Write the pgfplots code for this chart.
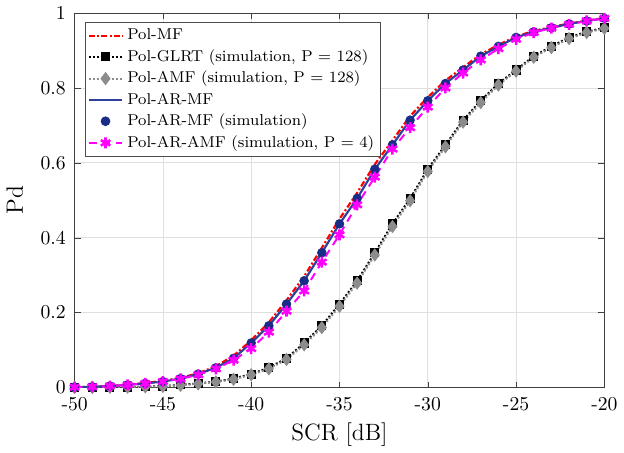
\documentclass[border=0pt]{standalone}
\usepackage{pgfplots}
\pgfplotsset{compat=1.18}
\definecolor{navyl}{RGB}{45,65,155}
\definecolor{navyd}{RGB}{25,45,135}
\definecolor{mag}{RGB}{255,0,255}
\definecolor{grayamf}{RGB}{140,140,140}
\begin{document}
\begin{tikzpicture}
\begin{axis}[
  scale only axis,
  width=269.5pt, height=190.5pt,
  xmin=-50, xmax=-20, ymin=0, ymax=1,
  xtick={-50,-45,-40,-35,-30,-25,-20},
  xticklabels={-50,-45,-40,-35,-30,-25,-20},
  ytick={0,0.2,0.4,0.6,0.8,1},
  yticklabels={0,0.2,0.4,0.6,0.8,1},
  tick label style={font=\normalsize},
  xticklabel style={yshift=-1.5pt},
  yticklabel style={xshift=-1pt},
  xlabel={SCR [dB]}, ylabel={Pd},
  label style={font=\large},
  xlabel style={yshift=1pt},
  ylabel style={yshift=2pt},
  grid=major,
  major grid style={gray!25, line width=0.4pt},
  axis line style={black!75, line width=0.5pt},
  tick style={black!75},
  tick align=inside,
  major tick length=3pt,
  legend style={at={(0.02,0.975)}, anchor=north west, font=\footnotesize,
    draw=black!70, line width=0.5pt, inner sep=1pt, row sep=-0.5pt, fill=white},
  legend cell align=left,
]
% Pol-MF
\addplot[red, line width=1.1pt, dash pattern=on 3pt off 1.2pt on 1pt off 1.2pt] coordinates {
(-50,0.001)(-49,0.002)(-48,0.004)(-47,0.008)(-46,0.012)(-45,0.018)(-44,0.026)(-43,0.038)(-42,0.057)(-41,0.085)(-40,0.126)
(-39,0.174)(-38,0.233)(-37,0.297)(-36,0.373)(-35,0.450)(-34,0.520)(-33,0.596)(-32,0.660)(-31,0.725)(-30,0.775)
(-29,0.820)(-28,0.855)(-27,0.890)(-26,0.915)(-25,0.938)(-24,0.952)(-23,0.963)(-22,0.972)(-21,0.980)(-20,0.987)};
\addlegendentry{Pol-MF}
% Pol-GLRT
\addplot[black, line width=1pt, densely dotted, mark=square*, mark size=1.8pt, mark options={solid}] coordinates {
(-50,0.0002)(-49,0.0004)(-48,0.0007)(-47,0.001)(-46,0.002)(-45,0.004)(-44,0.007)(-43,0.011)(-42,0.016)(-41,0.024)(-40,0.036)
(-39,0.053)(-38,0.078)(-37,0.119)(-36,0.165)(-35,0.223)(-34,0.285)(-33,0.360)(-32,0.437)(-31,0.505)(-30,0.583)
(-29,0.648)(-28,0.714)(-27,0.766)(-26,0.812)(-25,0.848)(-24,0.885)(-23,0.911)(-22,0.935)(-21,0.950)(-20,0.961)};
\addlegendentry{Pol-GLRT (simulation, P = 128)}
% Pol-AMF
\addplot[grayamf, line width=1pt, densely dotted, mark=diamond*, mark size=2.6pt, mark options={solid}] coordinates {
(-50,0.0002)(-49,0.0003)(-48,0.0006)(-47,0.001)(-46,0.002)(-45,0.003)(-44,0.006)(-43,0.010)(-42,0.015)(-41,0.022)(-40,0.034)
(-39,0.050)(-38,0.075)(-37,0.114)(-36,0.160)(-35,0.217)(-34,0.279)(-33,0.354)(-32,0.430)(-31,0.499)(-30,0.577)
(-29,0.643)(-28,0.709)(-27,0.761)(-26,0.808)(-25,0.845)(-24,0.882)(-23,0.908)(-22,0.932)(-21,0.948)(-20,0.959)};
\addlegendentry{Pol-AMF (simulation, P = 128)}
% Pol-AR-MF
\addplot[navyl, line width=1.1pt] coordinates {
(-50,0.001)(-49,0.002)(-48,0.004)(-47,0.007)(-46,0.011)(-45,0.016)(-44,0.024)(-43,0.036)(-42,0.053)(-41,0.078)(-40,0.119)
(-39,0.165)(-38,0.223)(-37,0.285)(-36,0.360)(-35,0.437)(-34,0.505)(-33,0.583)(-32,0.648)(-31,0.714)(-30,0.766)
(-29,0.812)(-28,0.848)(-27,0.885)(-26,0.911)(-25,0.935)(-24,0.950)(-23,0.961)(-22,0.971)(-21,0.979)(-20,0.986)};
\addlegendentry{Pol-AR-MF}
% Pol-AR-MF simulation
\addplot[only marks, navyd, mark=*, mark size=2.2pt] coordinates {
(-50,0.001)(-49,0.002)(-48,0.004)(-47,0.007)(-46,0.011)(-45,0.016)(-44,0.024)(-43,0.036)(-42,0.053)(-41,0.078)(-40,0.119)
(-39,0.165)(-38,0.223)(-37,0.285)(-36,0.360)(-35,0.437)(-34,0.505)(-33,0.583)(-32,0.648)(-31,0.714)(-30,0.766)
(-29,0.812)(-28,0.848)(-27,0.885)(-26,0.911)(-25,0.935)(-24,0.950)(-23,0.961)(-22,0.971)(-21,0.979)(-20,0.986)};
\addlegendentry{Pol-AR-MF (simulation)}
% Pol-AR-AMF
\addplot[mag, line width=1pt, dash pattern=on 4pt off 3pt, mark=asterisk, mark size=2.8pt, mark options={solid, line width=1.3pt}] coordinates {
(-50,0.001)(-49,0.002)(-48,0.004)(-47,0.007)(-46,0.011)(-45,0.016)(-44,0.023)(-43,0.034)(-42,0.050)(-41,0.073)(-40,0.104)
(-39,0.148)(-38,0.204)(-37,0.258)(-36,0.335)(-35,0.408)(-34,0.488)(-33,0.562)(-32,0.637)(-31,0.694)(-30,0.749)
(-29,0.800)(-28,0.840)(-27,0.875)(-26,0.905)(-25,0.930)(-24,0.948)(-23,0.960)(-22,0.970)(-21,0.979)(-20,0.986)};
\addlegendentry{Pol-AR-AMF (simulation, P = 4)}
\end{axis}
\end{tikzpicture}
\end{document}
